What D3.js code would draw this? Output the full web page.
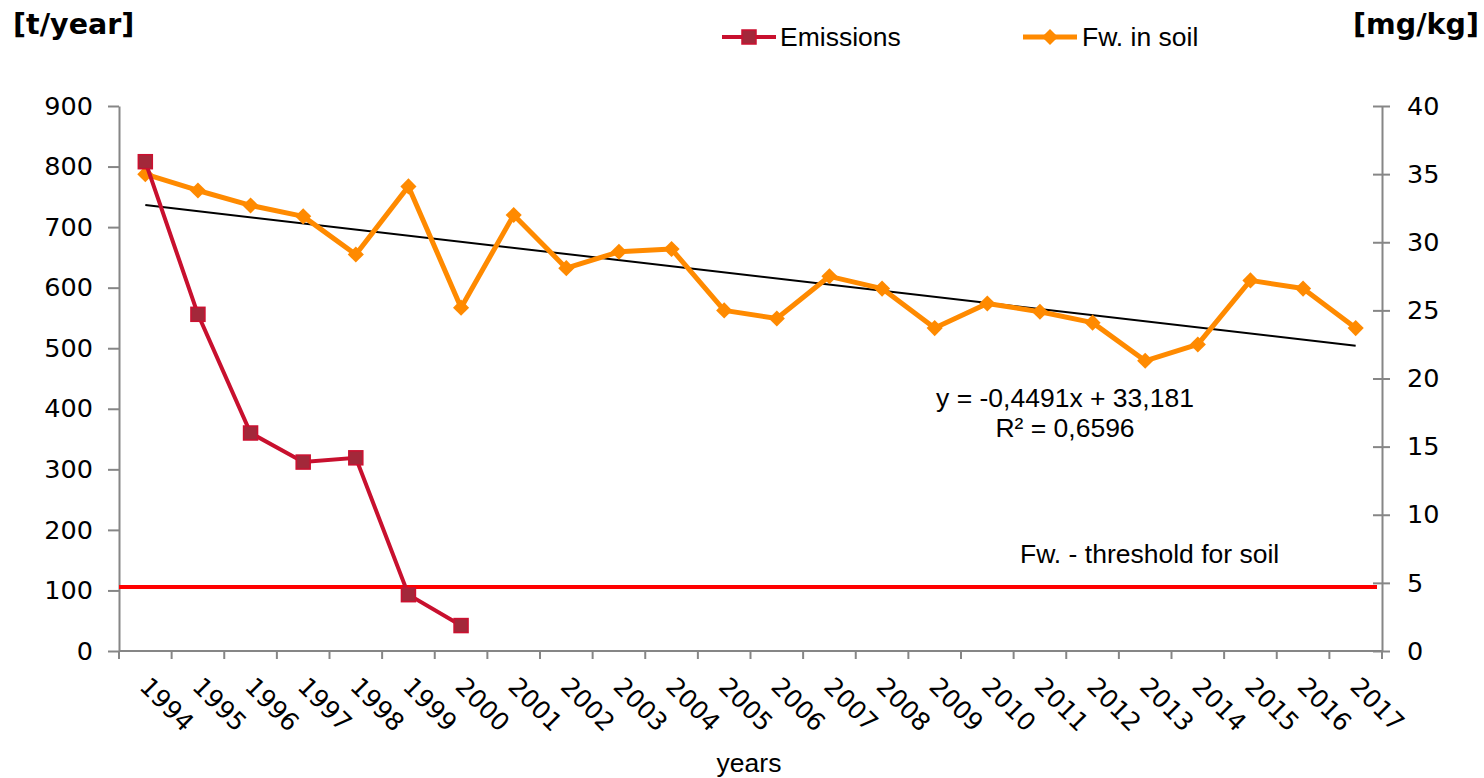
<!DOCTYPE html>
<html>
<head>
<meta charset="utf-8">
<script src="https://cdn.jsdelivr.net/npm/d3@7"></script>
<style>
  body { margin: 0; background: #fff; }
  .tick text { font-family: "DejaVu Sans", Verdana, sans-serif; font-size: 25.5px; fill: #000; }
  .domain, .tick line { stroke: #868686; stroke-width: 2; }
  .lbl { font-family: "Liberation Sans", Arial, sans-serif; font-size: 26.5px; fill: #000; }
  .unit { font-family: "DejaVu Sans", Verdana, sans-serif; font-size: 28.5px; font-weight: bold; fill: #000; }
</style>
</head>
<body>
<div id="chart"></div>
<script>
var years = ["1994","1995","1996","1997","1998","1999","2000","2001","2002","2003","2004","2005",
             "2006","2007","2008","2009","2010","2011","2012","2013","2014","2015","2016","2017"];
// emissions only reported up to 2000 [t/year]
var emissions = [808, 556, 360, 312, 319, 93, 42];
// Fw. in soil [mg/kg]
var fwSoil = [35.0, 33.8, 32.7, 31.9, 29.1, 34.1, 25.2, 32.0, 28.1, 29.3, 29.5, 25.0,
              24.4, 27.5, 26.6, 23.7, 25.5, 24.9, 24.1, 21.3, 22.5, 27.2, 26.6, 23.7];
var leftTicks = [0, 100, 200, 300, 400, 500, 600, 700, 800, 900];
var rightTicks = [0, 5, 10, 15, 20, 25, 30, 35, 40];
var thresholdValue = 4.7;
var trendSlope = -0.4491, trendIntercept = 33.181, trendR2 = "0,6596";

var W = 1484, H = 778;
var pLeft = 119, pRight = 1382, pTop = 106, pBottom = 651;

var svg = d3.select("#chart").append("svg")
  .attr("width", W)
  .attr("height", H);

var x = d3.scaleBand().domain(years).range([pLeft, pRight]).padding(0);
var cx = function(i) { return x(years[i]) + x.bandwidth() / 2; };
var yL = d3.scaleLinear().domain([0, 900]).range([pBottom, pTop]);
var yR = d3.scaleLinear().domain([0, 40]).range([pBottom, pTop]);

// left axis
svg.append("g")
  .attr("transform", "translate(" + pLeft + ",0)")
  .call(d3.axisLeft(yL).tickValues(leftTicks).tickSize(11).tickPadding(15).tickSizeOuter(0));

// right axis, ticks crossing
var gR = svg.append("g")
  .attr("transform", "translate(" + pRight + ",0)")
  .call(d3.axisRight(yR).tickValues(rightTicks).tickSize(8).tickPadding(17).tickSizeOuter(0));
gR.selectAll(".tick line").attr("x1", -9);

// bottom axis with ticks on category boundaries
var gX = svg.append("g").attr("transform", "translate(0," + pBottom + ")");
gX.append("line")
  .attr("x1", pLeft).attr("x2", pRight).attr("y1", 0).attr("y2", 0)
  .style("stroke", "#868686").style("stroke-width", 2);
var bounds = years.map(function(d) { return x(d); }).concat([pRight]);
gX.selectAll(".bt").data(bounds).enter().append("line")
  .attr("x1", function(d) { return d; }).attr("x2", function(d) { return d; })
  .attr("y1", 0).attr("y2", 8)
  .style("stroke", "#868686").style("stroke-width", 2);
gX.selectAll(".yr").data(years).enter().append("text")
  .attr("transform", function(d, i) { return "translate(" + (cx(i) - 7) + ",37) rotate(45)"; })
  .style("font-family", "'DejaVu Sans', Verdana, sans-serif")
  .style("font-size", "25px")
  .text(function(d) { return d; });

// threshold
svg.append("line")
  .attr("x1", pLeft).attr("x2", pRight - 5)
  .attr("y1", yR(thresholdValue)).attr("y2", yR(thresholdValue))
  .style("stroke", "#ff0000").style("stroke-width", 4);

// trend line
var trend = d3.line()
  .x(function(d) { return cx(d - 1); })
  .y(function(d) { return yR(trendSlope * d + trendIntercept); });
svg.append("path")
  .attr("d", trend([1, years.length]))
  .style("fill", "none").style("stroke", "#000").style("stroke-width", 2);

// Fw. in soil
var lineR = d3.line()
  .x(function(d, i) { return cx(i); })
  .y(function(d) { return yR(d); });
svg.append("path")
  .attr("d", lineR(fwSoil))
  .style("fill", "none").style("stroke", "#ff8a00").style("stroke-width", 5)
  .style("stroke-linejoin", "round");
svg.selectAll(".dia").data(fwSoil).enter().append("path")
  .attr("d", d3.symbol().type(d3.symbolSquare).size(130))
  .attr("transform", function(d, i) { return "translate(" + cx(i) + "," + yR(d) + ") rotate(45)"; })
  .style("fill", "#ff8a00");

// emissions
var lineL = d3.line()
  .x(function(d, i) { return cx(i); })
  .y(function(d) { return yL(d); });
svg.append("path")
  .attr("d", lineL(emissions))
  .style("fill", "none").style("stroke", "#c8102e").style("stroke-width", 4);
svg.selectAll(".sq").data(emissions).enter().append("rect")
  .attr("x", function(d, i) { return cx(i) - 7; })
  .attr("y", function(d) { return yL(d) - 7; })
  .attr("width", 14).attr("height", 14)
  .style("fill", "#a3283a").style("stroke", "#cc1030").style("stroke-width", 1.5);

// unit titles
svg.append("text").attr("class", "unit").attr("x", 13).attr("y", 34).text("[t/year]");
svg.append("text").attr("class", "unit").attr("x", 1479).attr("y", 34)
  .attr("text-anchor", "end").text("[mg/kg]");

// legend
var lg = svg.append("g");
lg.append("line").attr("x1", 722).attr("x2", 776).attr("y1", 37).attr("y2", 37)
  .style("stroke", "#c8102e").style("stroke-width", 4);
lg.append("rect").attr("x", 742).attr("y", 30).attr("width", 14).attr("height", 14)
  .style("fill", "#a3283a").style("stroke", "#cc1030").style("stroke-width", 1.5);
lg.append("text").attr("class", "lbl").attr("x", 780).attr("y", 46).text("Emissions");
lg.append("line").attr("x1", 1023).attr("x2", 1077).attr("y1", 37).attr("y2", 37)
  .style("stroke", "#ff8a00").style("stroke-width", 5);
lg.append("path").attr("d", d3.symbol().type(d3.symbolSquare).size(130))
  .attr("transform", "translate(1050,37) rotate(45)").style("fill", "#ff8a00");
lg.append("text").attr("class", "lbl").attr("x", 1082).attr("y", 46).text("Fw. in soil");

// annotations
svg.append("text").attr("class", "lbl").attr("x", 1065).attr("y", 407).attr("text-anchor", "middle")
  .text("y = " + String(trendSlope).replace(".", ",") + "x + " + String(trendIntercept).replace(".", ","));
svg.append("text").attr("class", "lbl").attr("x", 1065).attr("y", 437).attr("text-anchor", "middle")
  .text("R² = " + trendR2);
svg.append("text").attr("class", "lbl").attr("x", 1020).attr("y", 563).text("Fw. - threshold for soil");
svg.append("text").attr("class", "lbl").attr("x", 749).attr("y", 772).attr("text-anchor", "middle").text("years");
</script>
</body>
</html>
